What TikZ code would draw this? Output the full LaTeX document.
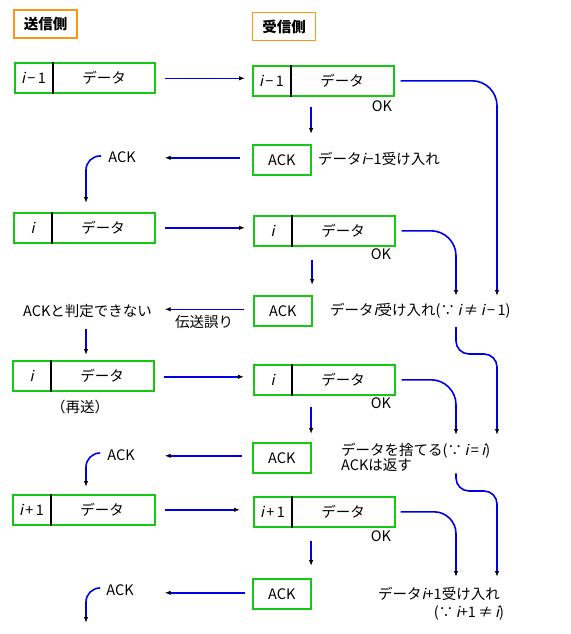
\documentclass[tikz,border=0pt]{standalone}
\usepackage{fontspec}
\setmainfont{Noto Sans CJK JP}
\newfontfamily\slfont{Noto Sans CJK JP}[FakeSlant=0.22]
\usetikzlibrary{arrows.meta,calc}
\definecolor{boxgreen}{RGB}{20,200,20}
\definecolor{hdrorange}{RGB}{250,150,20}
\definecolor{flowblue}{RGB}{0,0,230}
\newcommand\vi{{\slfont i}}
\newcommand\dbox[5]{% name, left x, top y, width, index label
  \node[databox, minimum width=#4pt, anchor=north west] (#1) at (#2,#3) {};
  \draw[divider] ([xshift=39pt]#1.north west) -- ([xshift=39pt]#1.south west);
  \node[lbl] (#1-i) at ([xshift=19.5pt]#1.west) {#5};
  \node[lbl] (#1-d) at ([xshift=90pt]#1.west) {データ};
}
\begin{document}
\begin{tikzpicture}[x=1pt,y=-1pt,
  font=\fontsize{14.5}{16.5}\selectfont,
  databox/.style={draw=boxgreen, line width=1.6pt, minimum height=30pt, inner sep=0pt},
  ackbox/.style={draw=boxgreen, line width=1.6pt, minimum width=58pt, minimum height=30pt, inner sep=0pt, anchor=north west},
  hdr/.style={draw=hdrorange, line width=1.4pt, minimum width=63pt, minimum height=28pt, inner sep=0pt, font=\fontsize{14.5}{16.5}\selectfont\bfseries},
  flow/.style={draw=flowblue, line width=1.6pt, -{Latex[black,length=6pt,width=4.5pt]}},
  divider/.style={draw=black, line width=1.6pt},
  lbl/.style={inner sep=0pt}]
\useasboundingbox (0,0) rectangle (570,634);

% headers
\node[hdr] (hs) at (45.5,24) {送信側};
\node[hdr] (hr) at (284,26.5) {受信側};

% ---------- row 1
\dbox{s1}{14}{62}{140}{\vi{}\,−\,1}
\dbox{r1}{252}{65}{141}{\vi{}\,−\,1}
\node[lbl] (ok1) at (382,106) {OK};
\node[ackbox] (a1) at (252,144) {ACK};
\node[lbl, anchor=west] (t1) at (318,159) {データ\vi{}−1受け入れ};
\node[lbl] (k1) at (122,157) {ACK};
\draw[flow] ($(s1.east)+(9,0.5)$) -- ($(s1.east -| r1.west)+(-7,0.5)$);
\draw[flow] ($(a1.north east |- r1.south)+(-0.5,10)$) -- ($(a1.north east)+(-0.5,-10)$);
\draw[flow] ($(a1.west)+(-12,-2)$) -- ($(a1.west -| s1.east)+(9,-2)$);
\coordinate (l1) at (86,203);
\draw[flow, rounded corners=14pt] ($(k1.west)+(-7,-1)$) -| (l1);
\coordinate (e1) at (497,296);
\draw[flow, rounded corners=25pt] ($(r1.east)+(6,0)$) -| (e1);

% ---------- row 2
\dbox{s2}{13}{212}{141}{\vi{}}
\dbox{r2}{253}{215}{141}{\vi{}}
\node[lbl] (ok2) at (381,254) {OK};
\node[ackbox] (a2) at (253,295) {ACK};
\node[lbl, anchor=west] (t2) at (330,311) {データ\vi{}受け入れ(∵\,\vi{}\,≠\,\vi{}\,−\,1)};
\node[lbl] (k2) at (87.5,311) {ACKと判定できない};
\node[lbl] (err) at (204,322) {伝送誤り};
\draw[flow] ($(s2.east)+(9,0)$) -- ($(s2.east -| r2.west)+(-8,0)$);
\draw[flow] ($(a2.north east |- r2.south)+(-0.5,13)$) -- ($(a2.north east)+(-0.5,-10)$);
\draw[flow] ($(a2.west)+(-9,-1.5)$) -- ($(a2.west -| s2.east)+(9,-1.5)$);
\coordinate (l2) at (86,355);
\draw[flow] ($(k2.south -| l2)+(0,11)$) -- (l2);
\coordinate (e2) at (456,296);
\draw[flow, rounded corners=25pt] ($(r2.east)+(6,0)$) -| (e2);

% ---------- row 3
\dbox{s3}{12}{360}{141}{\vi{}}
\node[lbl] (re) at (80,407) {（再送）};
\dbox{r3}{253}{364}{141}{\vi{}}
\node[lbl] (ok3) at (381,403) {OK};
\node[ackbox] (a3) at (252,442) {ACK};
\node[lbl, anchor=north west, align=left] (t3) at (341,443)
  {データを捨てる(∵\,\vi{}\,=\,\vi{})\\[-2pt]ACKは返す};
\node[lbl] (k3) at (121,455) {ACK};
\draw[flow] ($(s3.east)+(9,1)$) -- ($(s3.east -| r3.west)+(-9,1)$);
\draw[flow] ($(a3.north east |- r3.south)+(-0.5,11)$) -- ($(a3.north east)+(-0.5,-8)$);
\draw[flow] ($(a3.west)+(-10,-2)$) -- ($(a3.west -| s3.east)+(10,-2)$);
\coordinate (l3) at (86,487);
\draw[flow, rounded corners=14pt] ($(k3.west)+(-7,-2)$) -| (l3);
\coordinate (e3) at (456,435);
\draw[flow, rounded corners=25pt] ($(r3.east)+(6,0)$) -| (e3);
\coordinate (f2) at (497,435);
\draw[flow, rounded corners=13pt] ($(t2.south -| e2)+(0,8)$) -- (456,354) -- (497,354) -- (f2);

% ---------- row 4
\dbox{s4}{12}{494}{142}{\vi{}\,+\,1}
\dbox{r4}{253}{496}{141}{\vi{}\,+\,1}
\node[lbl] (ok4) at (381,536) {OK};
\node[ackbox] (a4) at (252,578) {ACK};
\node[lbl] (t4) at (439,594) {データ\vi{}+1受け入れ};
\node[lbl] (t4b) at (469,613) {(∵\,\vi{}+1\,≠\,\vi{})};
\node[lbl] (k4) at (120,590) {ACK};
\draw[flow] ($(s4.east)+(9,0)$) -- ($(s4.east -| r4.west)+(-13,0)$);
\draw[flow] ($(a4.north east |- r4.south)+(-0.5,13)$) -- ($(a4.north east)+(-0.5,-12)$);
\draw[flow] ($(a4.west)+(-7,-1)$) -- ($(a4.west -| s4.east)+(9,-1)$);
\coordinate (l4) at (86,623);
\draw[flow, rounded corners=14pt] ($(k4.west)+(-7,-2)$) -| (l4);
\coordinate (e4) at (456,577);
\draw[flow, rounded corners=22pt] ($(r4.east)+(5,0)$) -| (e4);
\coordinate (f4) at (497,577);
\draw[flow, rounded corners=13pt] ($(t3.south -| e3)+(0,2)$) -- (456,491) -- (497,491) -- (f4);
\end{tikzpicture}
\end{document}
